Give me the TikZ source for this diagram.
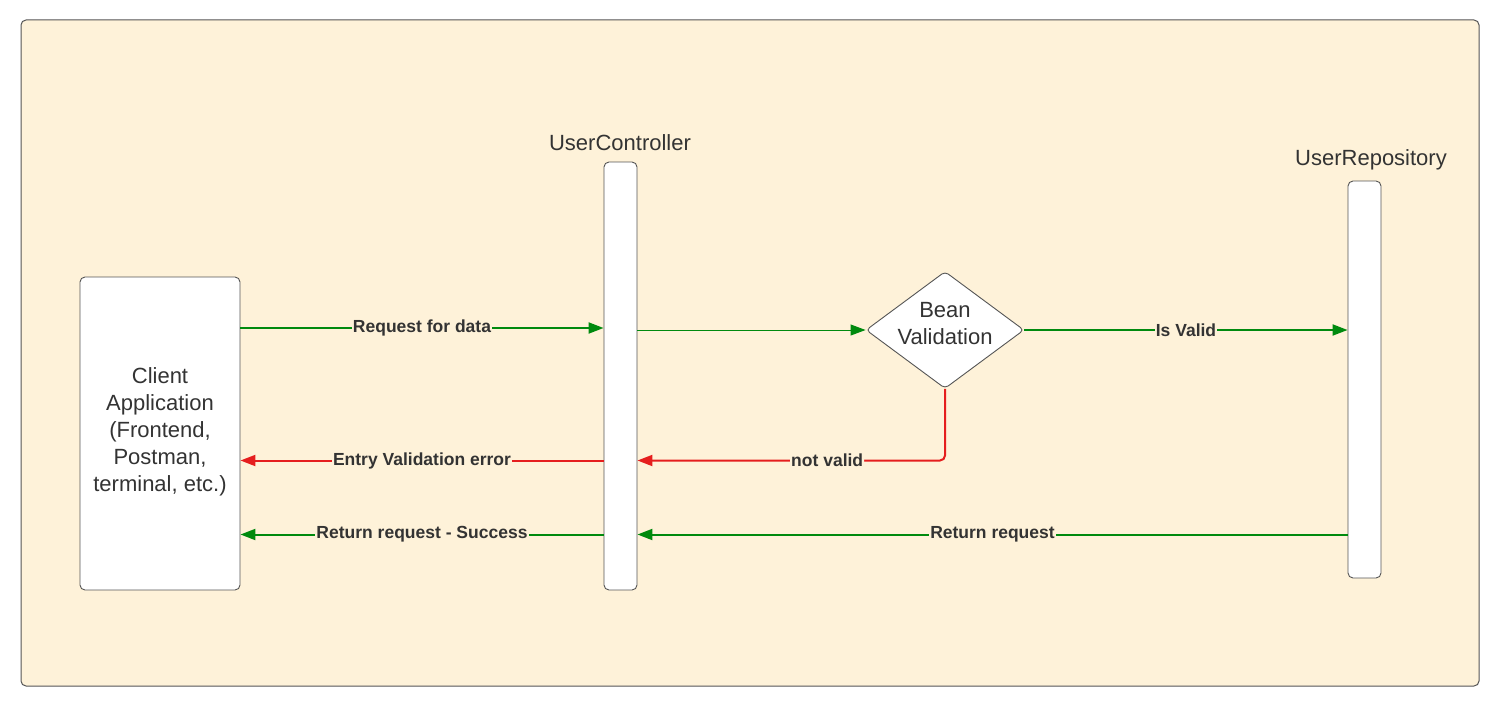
\documentclass[tikz,border=0pt]{standalone}
\usepackage{fontspec}
\setmainfont{Liberation Sans}
\usetikzlibrary{arrows.meta,shapes.geometric}
\definecolor{bg}{HTML}{FEF2D9}
\definecolor{frame}{HTML}{555555}
\definecolor{txt}{HTML}{333333}
\definecolor{okgreen}{HTML}{008A0E}
\definecolor{errred}{HTML}{E51E1E}
\tikzset{
  bar/.style={draw=frame, fill=white, rounded corners=5pt, line width=0.9pt, inner sep=0pt},
  title/.style={font=\fontsize{22}{27}\selectfont, text=txt},
  msg/.style={line width=2pt, -{Triangle[length=15pt,width=11pt]}},
  lbl/.style={font=\fontsize{17.5}{20}\selectfont\bfseries, text=txt, fill=bg, inner sep=1pt},
  dia/.style={draw=frame, fill=white, diamond, line width=0.9pt, rounded corners=4pt, inner sep=0pt, minimum width=158pt, minimum height=117pt}
}
\begin{document}
\begin{tikzpicture}[x=1pt,y=-1pt]
\useasboundingbox (0,0) rectangle (1511,706);
\node[draw=frame, fill=bg, rounded corners=5pt, line width=1pt, minimum width=1458pt, minimum height=666pt, inner sep=0pt] (frame) at (750,353) {};
% nodes
\node[bar, minimum width=160pt, minimum height=313pt, inner sep=0pt] (cl) at (160,433.5) {};
\node[title, align=center] (clt) at (160,431.5) {Client\\Application\\(Frontend,\\Postman,\\terminal, etc.)};
\node[bar, minimum width=33pt, minimum height=428pt] (uc) at (620.5,376) {};
\node[bar, minimum width=33pt, minimum height=397pt] (ur) at (1364.5,379.5) {};
\node[title] (uct) at (620,143) {UserController};
\node[title] (urt) at (1371,160) {UserRepository};
\node[dia] (bv) at (945,330) {};
\node[title, align=center] (bvt) at (945,324) {Bean\\Validation};
% helper coordinates
\coordinate (y1) at (0,328);
\coordinate (y2) at (0,330);
\coordinate (y3) at (0,460.5);
\coordinate (y4) at (0,534.5);
\coordinate (nvc) at (945,460.5);
% connectors
\draw[msg, okgreen] (cl.east |- y1) -- node[lbl]{Request for data} (uc.west |- y1);
\draw[okgreen, line width=1pt, -{Triangle[length=15pt,width=11pt]}] (uc.east |- y2) -- (bv.west);
\draw[msg, okgreen] (bv.east) -- node[lbl]{Is Valid} (ur.west |- y2);
\draw[msg, errred, rounded corners=5pt] (bv.south) -- (nvc) -- node[lbl, pos=0.383]{not valid} (uc.east |- y3);
\draw[msg, errred] (uc.west |- y3) -- node[lbl]{Entry Validation error} (cl.east |- y3);
\draw[msg, okgreen] (uc.west |- y4) -- node[lbl]{Return request - Success} (cl.east |- y4);
\draw[msg, okgreen] (ur.west |- y4) -- node[lbl]{Return request} (uc.east |- y4);
\end{tikzpicture}
\end{document}
